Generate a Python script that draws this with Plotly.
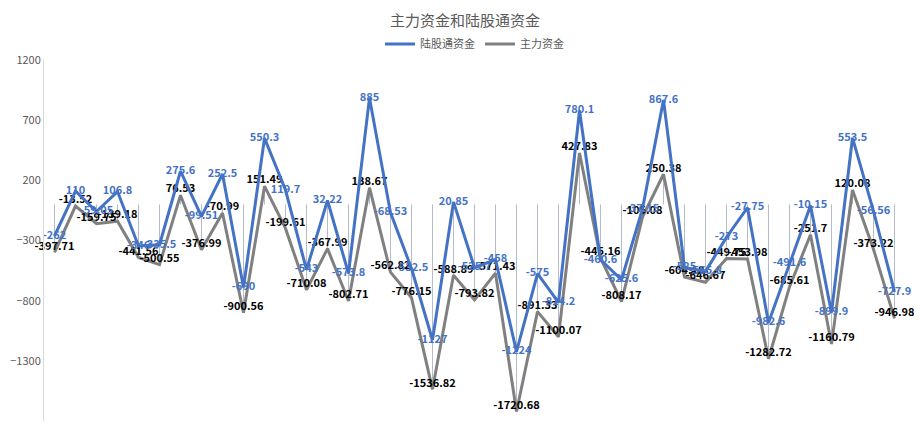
import plotly.graph_objects as go

# 41 trading days, no x labels shown
days = list(range(1, 42))

north_flow = [-262, 110, -59.05, 106.8, -346, -335.5, 275.6, -99.51, 252.5, -690,
              550.3, 119.7, -543, 32.22, -573.8, 885, -68.53, -532.5, -1127, 20.85,
              -525.7, -458, -1224, -575, -814.2, 780.1, -460.6, -625.6, -37.15, 867.6,
              -525, -555.8, -273, -27.75, -982.6, -491.6, -10.15, -899.9, 553.5, -56.56,
              -727.9]
main_flow = [-397.71, -13.52, -159.75, -139.18, -441.56, -500.55, 76.53, -376.99, -70.99, -900.56,
             151.49, -199.61, -710.08, -367.99, -802.71, 138.67, -562.82, -776.15, -1536.82, -588.89,
             -793.82, -571.43, -1720.68, -891.33, -1100.07, 427.83, -445.16, -808.17, -105.08, 250.38,
             -604.18, -646.67, -449.75, -453.98, -1282.72, -685.61, -251.7, -1160.79, 120.08, -373.22,
             -946.98]

y_ticks = [1200, 700, 200, -300, -800, -1300, -1800]

BLUE = "#4472c4"
GRAY = "#808080"
FONT = "Noto Sans CJK SC"

# drop lines from 0 to the lowest of the two series
dx, dy = [], []
for d, a, b in zip(days, north_flow, main_flow):
    dx += [d, d, None]
    dy += [0, min(a, b), None]

fig = go.Figure()
fig.add_trace(go.Scatter(x=dx, y=dy, mode='lines',
                         line=dict(color="#b4bccb", width=1),
                         showlegend=False, hoverinfo='skip'))
fig.add_trace(go.Scatter(x=days, y=main_flow, mode='lines+text', name='主力资金',
                         line=dict(color=GRAY, width=3),
                         text=[f"{v:g}" for v in main_flow], textposition='top center',
                         textfont=dict(color="#000000", size=11, family=FONT, weight='bold'),
                         legendrank=2, cliponaxis=False))
fig.add_trace(go.Scatter(x=days, y=north_flow, mode='lines+text', name='陆股通资金',
                         line=dict(color=BLUE, width=3),
                         text=[f"{v:g}" for v in north_flow], textposition='middle center',
                         textfont=dict(color=BLUE, size=11, family=FONT, weight='bold'),
                         legendrank=1, cliponaxis=False))

# page body has an 8px margin, so the figure is a bit smaller and shifted
fig.update_layout(
    width=914, height=414,
    margin=dict(l=36, r=17, t=52, b=1, autoexpand=False),
    paper_bgcolor='white', plot_bgcolor='white',
    font=dict(family=FONT, color="#595959", size=11),
    title=dict(text='主力资金和陆股通资金', x=0.5, xanchor='center',
               y=0.97, yanchor='middle', font=dict(size=15, color="#595959")),
    legend=dict(orientation='h', x=0.5, xanchor='center', y=1.044, yanchor='middle',
                font=dict(size=11, color="#595959"), itemwidth=30),
    xaxis=dict(range=[0.5, 41.5], showticklabels=False, showgrid=False,
               zeroline=False, showline=False, ticks=''),
    yaxis=dict(range=[-1800, 1200], tickvals=y_ticks, showgrid=False, zeroline=False,
               showline=True, linecolor="#d9d9d9", linewidth=1, ticks='',
               tickfont=dict(size=11, color="#595959")),
)

fig.write_html("out.html")
